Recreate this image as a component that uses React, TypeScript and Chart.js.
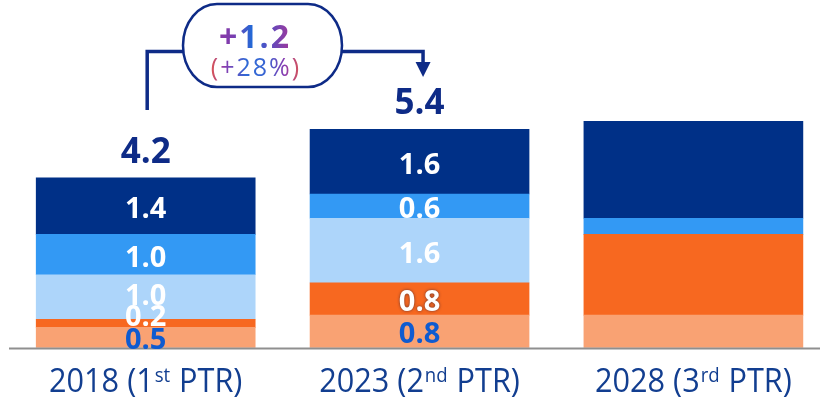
import React, { useEffect, useRef } from 'react';
import { Chart, registerables } from 'chart.js';

Chart.register(...registerables);

// ---- data ----
const categoryLabels = ['2018 (1st PTR)', '2023 (2nd PTR)', '2028 (3rd PTR)'];
const seriesNames = ['Series A', 'Series B', 'Series C', 'Series D', 'Series E'];
const peachValues = [0.5, 0.8, 0.8];
const orangeValues = [0.2, 0.8, 2.0];
const lightBlueValues = [1.1, 1.6, 0];
const blueValues = [1.0, 0.6, 0.4];
const navyValues = [1.4, 1.6, 2.4];

const peachLabels = ['0.5', '0.8', ''];
const orangeLabels = ['0.2', '0.8', ''];
const lightBlueLabels = ['1.0', '1.6', ''];
const blueLabels = ['1.0', '0.6', ''];
const navyLabels = ['1.4', '1.6', ''];
const totalLabels = ['4.2', '5.4', ''];
const deltaLabel = '+1.2';
const deltaPctLabel = '(+28%)';

// ---- styles ----
const COLORS = ['#F9A273', '#F76820', '#ADD5FA', '#3399F4', '#003087'];
const LABEL_COLORS = ['#0F5BD0', '#FFFFFF', '#FFFFFF', '#FFFFFF', '#FFFFFF'];
const NAVY = '#0E2B87';
const segLabels = [peachLabels, orangeLabels, lightBlueLabels, blueLabels, navyLabels];
const labelNudge: number[][] = [
  [2, 2, 0],
  [-7, 2, 0],
  [-2, 2, 0],
  [2, 2, 0],
  [2, 2, 0],
];

const overlay = {
  id: 'overlay',
  afterDraw(chart: any) {
    const ctx: CanvasRenderingContext2D = chart.ctx;
    const xs = chart.scales.x;
    const ys = chart.scales.y;
    const zeroY = ys.getPixelForValue(0);

    // baseline
    ctx.save();
    ctx.strokeStyle = '#8F8F8F';
    ctx.lineWidth = 2;
    ctx.beginPath();
    ctx.moveTo(9, zeroY + 1);
    ctx.lineTo(820, zeroY + 1);
    ctx.stroke();
    ctx.restore();

    // segment labels
    chart.data.datasets.forEach((_ds: any, di: number) => {
      const meta = chart.getDatasetMeta(di);
      meta.data.forEach((el: any, j: number) => {
        const txt = segLabels[di][j];
        if (!txt) return;
        const cy = (el.y + el.base) / 2 + labelNudge[di][j];
        ctx.save();
        ctx.font = 'bold 29px "Open Sans"';
        ctx.textAlign = 'center';
        ctx.textBaseline = 'alphabetic';
        ctx.fillStyle = LABEL_COLORS[di];
        if (di === 1 && j === 1) {
          ctx.shadowColor = 'rgba(70,40,50,0.85)';
          ctx.shadowBlur = 3;
        }
        ctx.fillText(txt, el.x, cy + 10);
        ctx.restore();
      });
    });

    // totals
    const topMeta = chart.getDatasetMeta(chart.data.datasets.length - 1);
    topMeta.data.forEach((el: any, j: number) => {
      const txt = totalLabels[j];
      if (!txt) return;
      ctx.save();
      ctx.font = 'bold 35px "Open Sans"';
      ctx.textAlign = 'center';
      ctx.textBaseline = 'alphabetic';
      ctx.fillStyle = NAVY;
      ctx.fillText(txt, el.x, el.y - 15);
      ctx.restore();
    });

    // category labels with superscript (horizontally condensed)
    const SX = 0.93;
    categoryLabels.forEach((lab, i) => {
      const m = lab.match(/^(.*?\d)(st|nd|rd|th)(.*)$/);
      const parts = m
        ? [
            { t: m[1], sup: false },
            { t: m[2], sup: true },
            { t: m[3], sup: false },
          ]
        : [{ t: lab, sup: false }];
      const mainFont = '33px "Open Sans"';
      const supFont = '20px "Open Sans"';
      ctx.save();
      ctx.fillStyle = '#123E90';
      ctx.textAlign = 'left';
      ctx.textBaseline = 'alphabetic';
      let total = 0;
      const widths = parts.map((p) => {
        ctx.font = p.sup ? supFont : mainFont;
        const w = ctx.measureText(p.t).width + (p.sup ? 2 : 0);
        total += w;
        return w;
      });
      const cx = xs.getPixelForValue(i);
      ctx.translate(cx, 0);
      ctx.scale(SX, 1);
      let x = -total / 2;
      const base = 391.5;
      parts.forEach((p, k) => {
        ctx.font = p.sup ? supFont : mainFont;
        ctx.fillText(p.t, x + (p.sup ? 1 : 0), p.sup ? base - 10 : base);
        x += widths[k];
      });
      ctx.restore();
    });

    // bracket arrow annotation
    const x0 = xs.getPixelForValue(0) + 1.5;
    const x1 = xs.getPixelForValue(1) + 3.5;
    const yLine = 51.5;
    ctx.save();
    ctx.strokeStyle = NAVY;
    ctx.fillStyle = NAVY;
    ctx.lineWidth = 3.5;
    ctx.beginPath();
    ctx.moveTo(x0, 110);
    ctx.lineTo(x0, yLine);
    ctx.lineTo(x1, yLine);
    ctx.lineTo(x1, 64);
    ctx.stroke();
    ctx.beginPath();
    ctx.moveTo(x1 - 7.5, 62);
    ctx.lineTo(x1 + 7.5, 62);
    ctx.lineTo(x1, 77);
    ctx.closePath();
    ctx.fill();

    // oval (flattened stadium with elliptical ends)
    const ox0 = 183, ox1 = 342, oy0 = 4, oy1 = 87;
    const ry = (oy1 - oy0) / 2;
    const rx = 34;
    const ocy = (oy0 + oy1) / 2;
    ctx.beginPath();
    ctx.moveTo(ox0 + rx, oy0);
    ctx.lineTo(ox1 - rx, oy0);
    ctx.ellipse(ox1 - rx, ocy, rx, ry, 0, -Math.PI / 2, Math.PI / 2);
    ctx.lineTo(ox0 + rx, oy1);
    ctx.ellipse(ox0 + rx, ocy, rx, ry, 0, Math.PI / 2, (3 * Math.PI) / 2);
    ctx.closePath();
    ctx.fillStyle = '#FFFFFF';
    ctx.fill();
    ctx.lineWidth = 2.5;
    ctx.strokeStyle = NAVY;
    ctx.stroke();

    // delta texts
    const drawGrad = (txt: string, font: string, cx: number, baseY: number, spacing: string, stops: [number, string][]) => {
      ctx.font = font;
      (ctx as any).letterSpacing = spacing;
      ctx.textAlign = 'left';
      ctx.textBaseline = 'alphabetic';
      const w = ctx.measureText(txt).width;
      const sx = cx - w / 2;
      const g = ctx.createLinearGradient(sx, 0, sx + w, 0);
      stops.forEach(([o, c]) => g.addColorStop(o, c));
      ctx.fillStyle = g;
      ctx.fillText(txt, sx, baseY);
    };
    drawGrad(deltaLabel, 'bold 32px "Open Sans"', 255, 48, '2px', [
      [0, '#8A3AA6'],
      [0.2, '#7A3EB0'],
      [0.45, '#2468D6'],
      [0.7, '#5A4CC0'],
      [1, '#A2389A'],
    ]);
    drawGrad(deltaPctLabel, '25px "Open Sans"', 256, 76, '2px', [
      [0, '#DF5650'],
      [0.15, '#8A3CB0'],
      [0.4, '#2E6AD6'],
      [0.62, '#3A64D2'],
      [0.82, '#8A3AB0'],
      [1, '#DF5650'],
    ]);
    ctx.restore();
  },
};

export default function App() {
  const ref = useRef<HTMLCanvasElement | null>(null);

  useEffect(() => {
    if (!ref.current) return;
    const valueSets = [peachValues, orangeValues, lightBlueValues, blueValues, navyValues];
    const chart = new Chart(ref.current, {
      type: 'bar',
      data: {
        labels: categoryLabels,
        datasets: valueSets.map((vals, i) => ({
          label: seriesNames[i],
          data: vals,
          backgroundColor: COLORS[i],
          borderWidth: 0,
          barThickness: 219,
          clip: false as any,
        })),
      },
      options: {
        responsive: false,
        animation: false,
        events: [],
        layout: { padding: { left: 145.7, right: 126.6, top: 24.3, bottom: 53.5 } },
        scales: {
          x: { stacked: true, display: false, offset: false },
          y: { stacked: true, display: false, min: 0, max: 8 },
        },
        plugins: {
          legend: { display: false },
          tooltip: { enabled: false },
        },
      },
      plugins: [overlay],
    });
    return () => chart.destroy();
  }, []);

  return (
    <div style={{ position: 'fixed', left: 0, top: 0, width: 820, height: 401, background: '#FFFFFF' }}>
      <canvas ref={ref} width={820} height={401} style={{ display: 'block' }} />
    </div>
  );
}
